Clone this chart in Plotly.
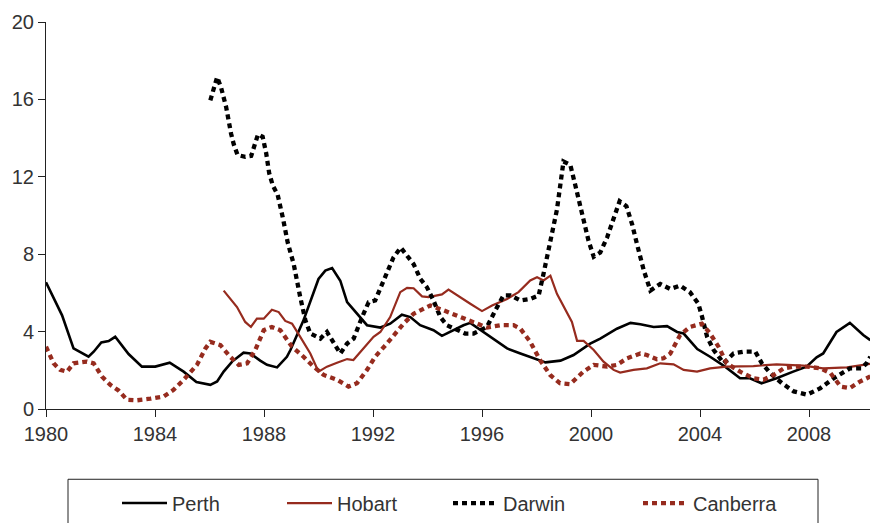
import plotly.graph_objects as go

# Quarterly-ish readings, percent
perth_x = [1980.0, 1980.59, 1981.01, 1981.56, 1981.75, 1982.03, 1982.3, 1982.54, 1983.03, 1983.52,
           1984.01, 1984.54, 1985.05, 1985.52, 1986.03, 1986.28, 1986.52, 1986.83, 1987.25, 1987.5,
           1987.86, 1988.11, 1988.48, 1988.84, 1988.97, 1989.45, 1990.0, 1990.25, 1990.5, 1990.8,
           1991.05, 1991.41, 1991.78, 1992.27, 1992.63, 1993.06, 1993.37, 1993.73, 1994.22, 1994.53,
           1994.83, 1995.32, 1995.57, 1996.06, 1996.43, 1996.92, 1997.41, 1997.9, 1998.33, 1998.88,
           1999.36, 1999.97, 2000.34, 2000.95, 2001.45, 2001.81, 2002.3, 2002.79, 2003.16, 2003.4,
           2003.9, 2004.37, 2004.92, 2005.47, 2005.83, 2006.26, 2006.81, 2007.42, 2007.91, 2008.28,
           2008.52, 2009.01, 2009.5, 2009.99, 2010.25]
perth_y = [6.55, 4.84, 3.13, 2.70, 2.96, 3.44, 3.51, 3.73, 2.84, 2.19,
           2.19, 2.39, 1.93, 1.39, 1.25, 1.42, 1.93, 2.45, 2.91, 2.87,
           2.50, 2.28, 2.15, 2.70, 3.05, 4.58, 6.72, 7.15, 7.28, 6.63,
           5.52, 4.92, 4.33, 4.21, 4.41, 4.87, 4.75, 4.33, 4.07, 3.78,
           3.98, 4.33, 4.45, 3.98, 3.64, 3.13, 2.87, 2.62, 2.41, 2.50,
           2.79, 3.38, 3.64, 4.15, 4.45, 4.38, 4.24, 4.28, 3.98, 3.90,
           3.10, 2.70, 2.19, 1.59, 1.59, 1.33, 1.59, 1.93, 2.19, 2.67,
           2.87, 3.98, 4.45, 3.82, 3.56]

hobart_x = [1986.52, 1987.01, 1987.31, 1987.52, 1987.74, 1987.99, 1988.29, 1988.54, 1988.78, 1989.03,
            1989.33, 1989.7, 1990.0, 1990.31, 1990.68, 1991.05, 1991.28, 1991.65, 1992.02, 1992.27,
            1992.63, 1993.0, 1993.25, 1993.49, 1993.8, 1994.04, 1994.29, 1994.53, 1994.77, 1995.08,
            1995.57, 1996.0, 1996.37, 1996.92, 1997.34, 1997.77, 1998.02, 1998.26, 1998.51, 1998.75,
            1999.12, 1999.3, 1999.49, 1999.73, 2000.1, 2000.46, 2000.83, 2001.07, 2001.56, 2002.05,
            2002.54, 2003.03, 2003.4, 2003.89, 2004.37, 2004.98, 2005.96, 2006.81, 2007.79, 2008.52,
            2009.39, 2010.25]
hobart_y = [6.12, 5.27, 4.50, 4.24, 4.67, 4.67, 5.13, 5.01, 4.55, 4.41,
            3.73, 2.87, 1.93, 2.19, 2.39, 2.58, 2.53, 3.13, 3.73, 3.98,
            4.75, 6.04, 6.26, 6.24, 5.82, 5.78, 5.87, 5.92, 6.17, 5.87,
            5.44, 5.06, 5.35, 5.69, 6.04, 6.64, 6.81, 6.64, 6.89, 5.95,
            5.01, 4.50, 3.52, 3.52, 3.05, 2.45, 2.02, 1.88, 2.02, 2.10,
            2.36, 2.31, 2.02, 1.93, 2.10, 2.19, 2.22, 2.31, 2.24, 2.10,
            2.15, 2.33]

darwin_x = [1986.03, 1986.15, 1986.28, 1986.42, 1986.61, 1986.79, 1986.89, 1987.03, 1987.31, 1987.53,
            1987.65, 1987.78, 1987.95, 1988.08, 1988.19, 1988.32, 1988.5, 1988.6, 1988.7, 1988.87,
            1989.09, 1989.33, 1989.52, 1989.7, 1990.07, 1990.31, 1990.56, 1990.8, 1991.05, 1991.29,
            1991.6, 1991.84, 1992.08, 1992.39, 1992.75, 1993.02, 1993.25, 1993.49, 1993.74, 1993.98,
            1994.22, 1994.47, 1994.71, 1995.02, 1995.38, 1995.69, 1995.93, 1996.18, 1996.49, 1996.79,
            1997.04, 1997.41, 1997.77, 1998.08, 1998.26, 1998.51, 1998.75, 1998.99, 1999.24, 1999.42,
            1999.67, 1999.91, 2000.1, 2000.34, 2000.59, 2000.83, 2001.05, 2001.3, 2001.51, 2001.69,
            2001.94, 2002.18, 2002.54, 2002.91, 2003.27, 2003.63, 2003.94, 2004.07, 2004.26, 2004.5,
            2004.87, 2005.23, 2005.6, 2006.03, 2006.27, 2006.58, 2007.01, 2007.44, 2007.93, 2008.42,
            2008.91, 2009.5, 2009.93, 2010.11, 2010.25]
darwin_y = [15.95, 16.51, 17.15, 16.64, 15.61, 14.24, 13.68, 13.13, 13.03, 13.08,
            13.61, 14.19, 14.07, 13.22, 12.19, 11.56, 11.08, 10.48, 9.83, 8.60,
            7.49, 5.78, 4.58, 3.90, 3.64, 3.98, 3.38, 2.87, 3.38, 3.64,
            4.75, 5.52, 5.61, 6.64, 7.83, 8.34, 7.92, 7.49, 6.72, 6.29,
            5.61, 4.75, 4.33, 4.15, 3.90, 3.90, 4.07, 4.24, 5.10, 5.87,
            5.87, 5.61, 5.69, 5.87, 7.00, 8.70, 10.30, 12.79, 12.62, 11.59,
            10.14, 8.69, 7.87, 8.09, 8.86, 9.79, 10.74, 10.48, 9.54, 8.51,
            7.15, 6.12, 6.46, 6.20, 6.38, 6.04, 5.44, 4.80, 3.73, 3.05,
            2.36, 2.87, 2.96, 2.96, 2.36, 1.85, 1.33, 0.91, 0.74, 1.08,
            1.59, 2.10, 2.10, 2.36, 2.70]

canberra_x = [1980.0, 1980.28, 1980.52, 1980.77, 1981.01, 1981.5, 1981.75, 1982.05, 1982.36, 1982.66,
              1982.97, 1983.34, 1983.83, 1984.32, 1984.68, 1985.05, 1985.54, 1985.85, 1986.03, 1986.4,
              1986.76, 1987.07, 1987.38, 1987.68, 1987.99, 1988.29, 1988.6, 1989.03, 1989.45, 1989.82,
              1990.19, 1990.68, 1991.1, 1991.41, 1991.78, 1992.08, 1992.51, 1993.12, 1993.49, 1994.1,
              1994.59, 1995.08, 1995.57, 1996.18, 1996.67, 1997.16, 1997.41, 1997.77, 1998.13, 1998.5,
              1998.86, 1999.23, 1999.72, 2000.1, 2000.59, 2000.95, 2001.32, 2001.81, 2002.05, 2002.42,
              2002.66, 2002.91, 2003.27, 2003.63, 2004.07, 2004.37, 2004.68, 2004.98, 2005.47, 2005.96,
              2006.33, 2006.7, 2007.07, 2007.44, 2007.93, 2008.42, 2008.79, 2009.16, 2009.5, 2009.87,
              2010.25]
canberra_y = [3.22, 2.36, 2.02, 1.93, 2.36, 2.45, 2.36, 1.68, 1.25, 0.96,
              0.48, 0.45, 0.53, 0.65, 0.99, 1.51, 2.28, 3.13, 3.47, 3.30,
              2.70, 2.28, 2.36, 3.05, 4.07, 4.24, 4.07, 3.22, 2.70, 2.19,
              1.76, 1.51, 1.16, 1.33, 2.02, 2.70, 3.38, 4.41, 4.92, 5.35,
              5.10, 4.84, 4.58, 4.21, 4.33, 4.33, 4.15, 3.47, 2.53, 1.76,
              1.33, 1.28, 1.93, 2.28, 2.19, 2.28, 2.62, 2.87, 2.79, 2.57,
              2.62, 2.87, 3.82, 4.24, 4.41, 3.90, 3.22, 2.36, 1.93, 1.59,
              1.51, 1.76, 2.10, 2.19, 2.19, 2.10, 1.85, 1.16, 1.08, 1.42,
              1.68]

year_ticks = [1980, 1984, 1988, 1992, 1996, 2000, 2004, 2008]
value_ticks = [0, 4, 8, 12, 16, 20]

RED = "#962B1E"
TEXT = "#333333"
AXIS = "#222222"
FONT = "Liberation Sans, Arial, sans-serif"
FS = 20

W, H = 870, 523
ML, MR, MT, MB = 46, 0, 22, 110
PW, PH = W - ML - MR, H - MT - MB


def px_to_paper_x(px):
    return (px - ML) / PW


def px_to_paper_y(py):
    return (H - MB - py) / PH


fig = go.Figure()
series = [
    ("Perth", perth_x, perth_y, dict(color="black", width=2.6), "legend"),
    ("Hobart", hobart_x, hobart_y, dict(color=RED, width=2.2), "legend2"),
    ("Darwin", darwin_x, darwin_y, dict(color="black", width=4.3, dash="5px,4px"), "legend3"),
    ("Canberra", canberra_x, canberra_y, dict(color=RED, width=4.3, dash="5px,4px"), "legend4"),
]
for name, xs, ys, line, leg in series:
    fig.add_trace(go.Scatter(x=xs, y=ys, mode="lines", name=name, line=line,
                             legend=leg, hoverinfo="skip"))

legend_text_px = {"legend": 172, "legend2": 337, "legend3": 503, "legend4": 693}
legend_common = dict(
    orientation="h", yanchor="middle", xanchor="left", itemwidth=45,
    y=px_to_paper_y(508), bgcolor="rgba(0,0,0,0)", borderwidth=0,
    font=dict(family=FONT, size=FS, color=TEXT),
)
layout_legends = {}
for key, tx in legend_text_px.items():
    layout_legends[key] = dict(legend_common, x=px_to_paper_x(tx - 55))

axis_common = dict(
    showgrid=False, zeroline=False, showline=True, linecolor=AXIS, linewidth=1,
    ticks="outside", ticklen=7, tickcolor=AXIS, tickwidth=1,
    tickfont=dict(family=FONT, size=FS, color=TEXT),
)

fig.update_layout(
    width=W, height=H,
    margin=dict(l=ML, r=MR, t=MT, b=MB),
    paper_bgcolor="white", plot_bgcolor="white",
    font=dict(family=FONT, size=FS, color=TEXT),
    showlegend=True,
    xaxis=dict(axis_common, range=[1980, 1980 + PW / 27.25], tickvals=year_ticks,
               ticktext=[str(v) for v in year_ticks]),
    yaxis=dict(axis_common, range=[0, 20], tickvals=value_ticks),
    shapes=[dict(
        type="rect", xref="paper", yref="paper",
        x0=px_to_paper_x(68), x1=px_to_paper_x(818),
        y0=px_to_paper_y(560), y1=px_to_paper_y(484),
        line=dict(color=AXIS, width=1), fillcolor="rgba(0,0,0,0)", layer="above",
    )],
    **layout_legends,
)

fig.write_html("out.html")
